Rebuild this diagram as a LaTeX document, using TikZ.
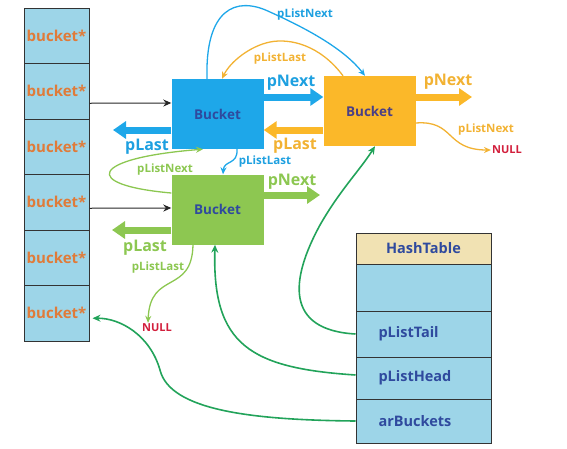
\documentclass[tikz,border=0pt]{standalone}
\usepackage{fontspec}
\setmainfont{Open Sans}
\usetikzlibrary{arrows.meta,calc}
\definecolor{cellblue}{HTML}{9DD5E8}
\definecolor{bblue}{HTML}{1EA7E9}
\definecolor{borange}{HTML}{FBB829}
\definecolor{bgreen}{HTML}{8DC751}
\definecolor{htan}{HTML}{F1E2B3}
\definecolor{txtorange}{HTML}{E07B39}
\definecolor{txtdark}{HTML}{2F4A9E}
\definecolor{txtpurple}{HTML}{4A3F86}
\definecolor{dgreen}{HTML}{22A35A}
\definecolor{nullred}{HTML}{D21F3C}
\definecolor{lblue}{HTML}{1EA0E0}
\definecolor{lorange}{HTML}{F2B233}
\definecolor{lgreen}{HTML}{8CC751}
\tikzset{
  cell/.style={draw=black!80,line width=1pt,fill=cellblue,minimum width=65pt,minimum height=55.5pt,inner sep=0pt,font=\fontsize{15}{15}\selectfont\bfseries,text=txtorange},
  bucketbox/.style={minimum width=92pt,minimum height=70pt,inner sep=0pt,font=\fontsize{13.5}{13.5}\selectfont\bfseries},
  hrow/.style={draw=black!80,line width=1pt,fill=cellblue,minimum width=135pt,inner sep=0pt,text width=90pt,align=left,font=\fontsize{14.5}{14.5}\selectfont\bfseries,text=txtdark},
  blk/.style={line width=1pt,black!85,-{Stealth[length=8pt,width=7pt]}},
  fat/.style={line width=7pt,-{Triangle[length=13pt,width=17pt]}},
  thin/.style={line width=1.3pt,-{Stealth[length=7pt,width=6pt]}},
  dg/.style={line width=1.6pt,dgreen,-{Stealth[length=8pt,width=7pt]}},
  big/.style={font=\fontsize{16}{16}\selectfont\bfseries},
  small/.style={font=\fontsize{11.5}{11.5}\selectfont\bfseries},
  nulltxt/.style={font=\fontsize{11}{11}\selectfont\bfseries,text=nullred,inner sep=1pt}
}
\begin{document}
\begin{tikzpicture}[x=1pt,y=-1pt]
\useasboundingbox (0,0) rectangle (567,448);
% left column
\node[cell] (b1) at (56.5,35.75) {bucket*};
\node[cell] (b2) at (56.5,91.25) {bucket*};
\node[cell] (b3) at (56.5,146.75) {bucket*};
\node[cell] (b4) at (56.5,202.25) {bucket*};
\node[cell] (b5) at (56.5,257.75) {bucket*};
\node[cell] (b6) at (56.5,313.25) {bucket*};
% buckets
\node[bucketbox,fill=bblue,text=txtdark] (blue) at (217.5,114) {Bucket};
\node[bucketbox,fill=borange,text=txtpurple] (orange) at (369.5,111) {Bucket};
\node[bucketbox,fill=bgreen,text=txtdark] (green) at (217.5,209.5) {Bucket};
% hashtable
\node[hrow,fill=htan,minimum height=31pt,align=center,text width=135pt] (ht) at (423.5,248.5) {HashTable};
\node[hrow,minimum height=47pt] (r1) at (423.5,287.5) {};
\node[hrow,minimum height=46pt] (r2) at (423.5,334) {pListTail};
\node[hrow,minimum height=42pt] (r3) at (423.5,378) {pListHead};
\node[hrow,minimum height=44pt] (r4) at (423.5,421) {arBuckets};
% black arrows
\draw[blk] ($(b2.east)+(0,12)$) -- ($(blue.west)+(0,-11)$);
\draw[blk] ($(b4.east)+(0,6)$) -- ($(green.west)+(0,-1.5)$);
% free ends
\coordinate (blueL) at (113,130);
\coordinate (orangeR) at (472,97);
\coordinate (greenR) at (320,195);
\coordinate (greenL) at (112,230);
% thick arrows
\draw[fat,bblue] ($(blue.east)+(0,-17)$) -- ($(orange.west)+(0,-14)$);
\draw[fat,bblue] ($(blue.west)+(0,16)$) -- (blueL);
\draw[fat,borange] ($(orange.west)+(0,19)$) -- ($(blue.east)+(0,16)$);
\draw[fat,borange] ($(orange.east)+(0,-14)$) -- (orangeR);
\draw[fat,bgreen] ($(green.east)+(0,-14.5)$) -- (greenR);
\draw[fat,bgreen] ($(green.west)+(0,20.5)$) -- (greenL);
% big labels
\node[big,text=lblue] at (291,83) {pNext};
\node[big,text=lblue] at (147,147) {pLast};
\node[big,text=lorange] at (448,82) {pNext};
\node[big,text=lorange] at (295,146) {pLast};
\node[big,text=lgreen] at (292,182) {pNext};
\node[big,text=lgreen] at (145,248) {pLast};
% NULLs
\node[nulltxt] (null1) at (157,328) {NULL};
\node[nulltxt] (null2) at (507,150) {NULL};
% thin curves
\draw[thin,bblue] ($(blue.north)+(-10.5,0)$) .. controls (205,10) and (235,-5) .. (270,12) .. controls (310,30) and (345,50) .. ($(orange.north)+(-4.5,0)$);
\draw[thin,lorange] ($(orange.north)+(-26.5,0)$) .. controls (320,45) and (290,38) .. (270,42) .. controls (250,46) and (230,62) .. ($(blue.north)+(4.5,0)$);
\draw[thin,bblue] ($(blue.south)+(19.5,0)$) .. controls (238,165) and (224,160) .. ($(green.north)+(5.5,0)$);
\draw[thin,lgreen] ($(green.west)+(0,-16.5)$) .. controls (80,185) and (90,158) .. ($(blue.south)+(-14.5,0)$);
\draw[thin,lgreen] ($(green.south)+(-24.5,0)$) .. controls (192,295) and (150,270) .. ($(null1.north)+(-9,0)$);
\draw[thin,lorange] ($(orange.east)+(0,12)$) .. controls (455,120) and (445,150) .. (null2.west);
% small labels
\node[small,text=lblue] at (305,15) {pListNext};
\node[small,text=lorange] at (280,59) {pListLast};
\node[small,text=lblue] at (265,162) {pListLast};
\node[small,text=lgreen] at (165,170) {pListNext};
\node[small,text=lgreen] at (158,268) {pListLast};
\node[small,text=lorange] at (486,130) {pListNext};
% dark green curves
\draw[dg] (r2.west) .. controls (285,330) and (290,280) .. (320,225) .. controls (340,190) and (360,170) .. ($(orange.south)+(5.5,0)$);
\draw[dg] ($(r3.west)+(0,-3)$) .. controls (250,368) and (212,345) .. ($(green.south)+(-2.5,0)$);
\draw[dg] (r4.west) .. controls (250,420) and (170,410) .. (160,370) .. controls (150,335) and (120,318) .. ($(b6.east)+(3,5)$);
\end{tikzpicture}
\end{document}
